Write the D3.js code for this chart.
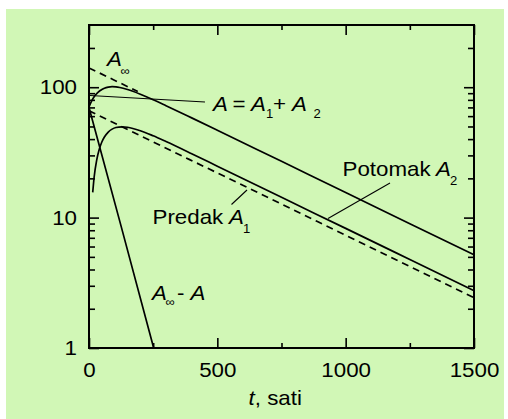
<!DOCTYPE html>
<html>
<head>
<meta charset="utf-8">
<script src="https://cdn.jsdelivr.net/npm/d3@7"></script>
<style>
  html, body { margin: 0; padding: 0; background: #ffffff; }
  svg { display: block; }
  text { font-family: "Liberation Sans", Arial, Helvetica, sans-serif; fill: #000; }
</style>
</head>
<body>
<svg id="chart" width="508" height="419"></svg>
<script>
// ---- data ----
const xTicksMajor = [0, 500, 1000, 1500];
const xTicksMinor = [250, 750, 1250];
const yTicksMajor = [1, 10, 100];
const yTicksMinor = [2, 3, 4, 5, 6, 7, 8, 9, 20, 30, 40, 50, 60, 70, 80, 90, 200];

// parent A1 (dashed, lower)
const tParent = [0, 250, 500, 750, 1000, 1250, 1500];
const vParent = [66, 38.0, 22.0, 12.7, 7.31, 4.22, 2.43];
// asymptote A-infinity (dashed, upper)
const tAinf = [0, 95, 190];
const vAinf = [140.6, 114.2, 92.6];
// A-infinity minus A (steep line)
const tDiff = [0, 125, 252];
const vDiff = [70, 8.6, 1.0];
// total A = A1 + A2
const tTotal = [0, 10, 20, 30, 40, 50, 60, 75, 90, 105, 120, 150, 200, 250, 300, 400, 500, 750, 1000, 1250, 1500];
const vTotal = [70.6, 78.3, 84.6, 89.3, 93.1, 95.9, 98.3, 100.3, 101.0, 100.6, 99.5, 96.0, 88.4, 80.2, 72.2, 58.2, 46.8, 27.0, 15.6, 8.98, 5.19];
// daughter A2
const tDaughter = [14.5, 20, 30, 40, 50, 60, 75, 90, 105, 128, 150, 200, 250, 300, 400, 500, 750, 1000, 1250, 1500];
const vDaughter = [15.6, 20.4, 27.6, 33.4, 38.0, 41.5, 45.3, 47.7, 49.1, 49.7, 49.3, 46.4, 42.4, 38.3, 30.9, 24.8, 14.3, 8.27, 4.77, 2.75];

// ---- layout ----
const svg = d3.select("#chart");
const SX = 1.09;     // horizontal text stretch
const FS = 20.5;     // main font size
const FSsub = 12;

svg.append("rect").attr("x", 6).attr("y", 9).attr("width", 498).attr("height", 410)
  .attr("fill", "rgb(209,247,182)");

const L = 89, R = 474, T = 25, B = 348;
const x = d3.scaleLinear().domain([0, 1500]).range([L, R]);
const y = d3.scaleLog().domain([1, 300]).range([B, T]);

function styleAxis(g) {
  g.select(".domain").remove();
  g.selectAll(".tick line").attr("stroke", "#000").attr("stroke-width", 1.6);
}

// bottom axis major with labels
const gB = svg.append("g").attr("transform", `translate(0,${B})`)
  .call(d3.axisBottom(x).tickValues(xTicksMajor).tickSize(-10).tickPadding(14.6).tickFormat(d3.format("d")));
styleAxis(gB);
gB.selectAll(".tick text").attr("font-size", FS).attr("transform", `scale(${SX},1)`);
svg.append("g").attr("transform", `translate(0,${B})`)
  .call(d3.axisBottom(x).tickValues(xTicksMinor).tickSize(-5).tickFormat("")).call(styleAxis);
// top axis
svg.append("g").attr("transform", `translate(0,${T})`)
  .call(d3.axisTop(x).tickValues(xTicksMajor).tickSize(-10).tickFormat("")).call(styleAxis);
svg.append("g").attr("transform", `translate(0,${T})`)
  .call(d3.axisTop(x).tickValues(xTicksMinor).tickSize(-5).tickFormat("")).call(styleAxis);

// left axis
const gL = svg.append("g").attr("transform", `translate(${L},0)`)
  .call(d3.axisLeft(y).tickValues(yTicksMajor).tickSize(-10).tickPadding(11).tickFormat(d3.format("d")));
styleAxis(gL);
gL.selectAll(".tick text").attr("font-size", FS).attr("transform", `scale(${SX},1)`);
svg.append("g").attr("transform", `translate(${L},0)`)
  .call(d3.axisLeft(y).tickValues(yTicksMinor).tickSize(-6).tickFormat("")).call(styleAxis);
// right axis
svg.append("g").attr("transform", `translate(${R},0)`)
  .call(d3.axisRight(y).tickValues(yTicksMajor).tickSize(-10).tickFormat("")).call(styleAxis);
svg.append("g").attr("transform", `translate(${R},0)`)
  .call(d3.axisRight(y).tickValues(yTicksMinor).tickSize(-6).tickFormat("")).call(styleAxis);

// frame
svg.append("rect").attr("x", L).attr("y", T).attr("width", R - L).attr("height", B - T)
  .attr("fill", "none").attr("stroke", "#000").attr("stroke-width", 2);

// curves
const line = d3.line().x(d => x(d[0])).y(d => y(d[1])).curve(d3.curveMonotoneX);
function series(ts, vs, dashed) {
  svg.append("path").datum(ts.map((t, i) => [t, vs[i]]))
    .attr("d", line).attr("fill", "none").attr("stroke", "#000")
    .attr("stroke-width", 1.7).attr("stroke-dasharray", dashed ? "7,5" : null);
}
series(tParent, vParent, true);
series(tAinf, vAinf, true);
series(tDiff, vDiff, false);
series(tTotal, vTotal, false);
series(tDaughter, vDaughter, false);

// leader lines
function leader(x1, y1, x2, y2) {
  svg.append("line").attr("x1", x1).attr("y1", y1).attr("x2", x2).attr("y2", y2)
    .attr("stroke", "#000").attr("stroke-width", 1.1);
}
leader(90, 95.5, 205, 102);
leader(231.5, 204.5, 247, 190);
leader(328, 218.5, 390, 183);

// labels
function label(px, py, str, opts = {}) {
  svg.append("text")
    .attr("transform", `translate(${px},${py}) scale(${SX},1)`)
    .attr("font-size", opts.size || FS)
    .attr("font-style", opts.italic ? "italic" : "normal")
    .text(str);
}
// A-infinity
label(107, 66, "A", { italic: true });
label(120.5, 75, "∞", { size: FSsub });
// A = A1 + A2
label(213, 110.5, "A", { italic: true });
label(232.5, 110.5, "=");
label(251, 110.5, "A", { italic: true });
label(266, 118, "1", { size: FSsub });
label(273, 110.5, "+");
label(292, 110.5, "A", { italic: true });
label(313.5, 118, "2", { size: FSsub });
// Predak A1
label(152.5, 223.5, "Predak");
label(229, 223.5, "A", { italic: true });
label(243, 233, "1", { size: FSsub });
// Potomak A2
label(342.5, 176, "Potomak");
label(436, 176, "A", { italic: true });
label(450, 185, "2", { size: FSsub });
// A-infinity - A
label(152, 300, "A", { italic: true });
label(165.5, 306, "∞", { size: FSsub });
label(177, 300, "-");
label(190.5, 300, "A", { italic: true });

// axis title
const title = svg.append("text")
  .attr("transform", `translate(248.5,405) scale(${SX},1)`)
  .attr("font-size", FS);
title.append("tspan").attr("font-style", "italic").text("t");
title.append("tspan").text(", sati");
</script>
</body>
</html>
